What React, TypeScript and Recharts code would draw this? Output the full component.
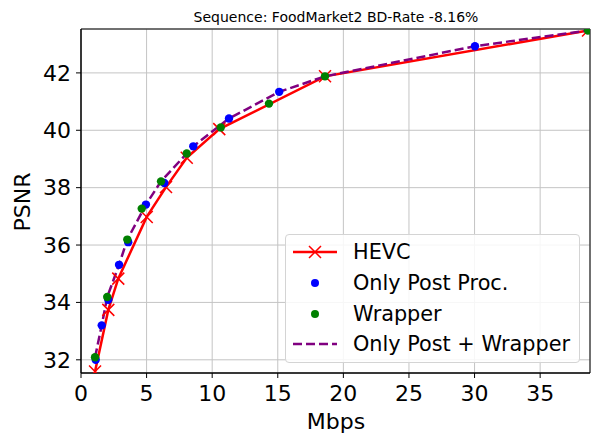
import React from "react";
import {
  ComposedChart,
  Line,
  XAxis,
  YAxis,
  CartesianGrid,
  ReferenceArea,
} from "recharts";

// values (Mbps, PSNR)
const hevcRate = [1.07, 2.08, 2.84, 5.01, 6.48, 8.06, 10.54, 18.6, 38.65];
const hevcPsnr = [31.59, 33.74, 34.83, 36.98, 38.02, 39.04, 40.04, 41.88, 43.48];

const postRate = [1.12, 1.58, 2.08, 2.9, 3.6, 4.95, 6.35, 8.56, 11.28, 15.11, 30.03];
const postPsnr = [32.0, 33.2, 34.09, 35.31, 36.1, 37.41, 38.16, 39.44, 40.41, 41.34, 42.93];

const wrapRate = [1.07, 2.0, 3.53, 4.63, 6.1, 8.06, 10.65, 14.33, 18.6, 38.65];
const wrapPsnr = [32.09, 34.19, 36.19, 37.27, 38.22, 39.19, 40.1, 40.93, 41.88, 43.48];

const bothRate = [1.07, 1.58, 2.0, 2.9, 3.53, 4.95, 6.1, 8.56, 11.28, 15.11, 18.6, 30.03, 38.65];
const bothPsnr = [32.09, 33.2, 34.19, 35.31, 36.19, 37.41, 38.22, 39.44, 40.41, 41.34, 41.88, 42.93, 43.48];

const xTicks = [0, 5, 10, 15, 20, 25, 30, 35];
const yTicks = [32, 34, 36, 38, 40, 42];
const X_DOMAIN: [number, number] = [0, 38.8];
const Y_DOMAIN: [number, number] = [31.54, 43.53];

const FONT = "'DejaVu Sans', sans-serif";

const toPts = (xs: number[], ys: number[]) => xs.map((x, i) => ({ x, y: ys[i] }));

function XMark({ cx, cy }: any) {
  if (cx == null || cy == null) return null;
  const s = 6;
  return (
    <path
      d={`M${cx - s},${cy - s}L${cx + s},${cy + s}M${cx - s},${cy + s}L${cx + s},${cy - s}`}
      stroke="#ff0000"
      strokeWidth={1.5}
      fill="none"
    />
  );
}

const legendItems = [
  { label: "HEVC", kind: "x" },
  { label: "Only Post Proc.", kind: "blue" },
  { label: "Wrapper", kind: "green" },
  { label: "Only Post + Wrapper", kind: "dash" },
];

function LegendBox() {
  return (
    <div
      style={{
        position: "absolute",
        left: 285,
        top: 234,
        width: 295,
        height: 129,
        border: "1px solid #d4d4d4",
        borderRadius: 4,
        background: "rgba(255,255,255,0.85)",
        boxSizing: "border-box",
        fontFamily: FONT,
        fontSize: 20.8,
      }}
    >
      {legendItems.map((it, i) => {
        const cy = 17 + 30.8 * i;
        return (
          <div key={it.label}>
            <svg
              width={46}
              height={20}
              style={{ position: "absolute", left: 6, top: cy - 10 }}
            >
              {it.kind === "x" && (
                <>
                  <line x1={1} y1={10} x2={45} y2={10} stroke="#ff0000" strokeWidth={2.5} />
                  <path d="M17,4L29,16M17,16L29,4" stroke="#ff0000" strokeWidth={1.5} />
                </>
              )}
              {it.kind === "blue" && <circle cx={23} cy={10} r={4} fill="#0000ff" />}
              {it.kind === "green" && <circle cx={23} cy={10} r={4} fill="#008000" />}
              {it.kind === "dash" && (
                <line
                  x1={1}
                  y1={10}
                  x2={45}
                  y2={10}
                  stroke="#800080"
                  strokeWidth={2.5}
                  strokeDasharray="9 4"
                />
              )}
            </svg>
            <span
              style={{
                position: "absolute",
                left: 67,
                top: cy - 12,
                lineHeight: "24px",
                whiteSpace: "nowrap",
              }}
            >
              {it.label}
            </span>
          </div>
        );
      })}
    </div>
  );
}

export default function App() {
  const tick = { fontSize: 22, fill: "#000", fontFamily: FONT };
  return (
    <div
      style={{
        position: "absolute",
        left: 0,
        top: 0,
        width: 596,
        height: 438,
        background: "#fff",
        fontFamily: FONT,
      }}
    >
      <div
        style={{
          position: "absolute",
          left: 336,
          top: 17,
          transform: "translate(-50%, -50%)",
          fontSize: 14,
          lineHeight: 1,
          whiteSpace: "nowrap",
        }}
      >
        Sequence: FoodMarket2 BD-Rate -8.16%
      </div>

      <ComposedChart
        width={596}
        height={438}
        margin={{ top: 29, right: 6, bottom: 0, left: 0 }}
      >
        <CartesianGrid stroke="#c4c4c4" strokeWidth={1} />
        <XAxis
          type="number"
          dataKey="x"
          domain={X_DOMAIN}
          ticks={xTicks}
          allowDataOverflow
          height={65}
          tick={tick}
          tickSize={5}
          tickMargin={7}
          stroke="#000"
          tickLine={{ stroke: "#000" }}
          interval={0}
        />
        <YAxis
          type="number"
          dataKey="y"
          domain={Y_DOMAIN}
          ticks={yTicks}
          allowDataOverflow
          width={81}
          tick={tick}
          tickSize={5}
          tickMargin={5}
          stroke="#000"
          tickLine={{ stroke: "#000" }}
          interval={0}
        />
        <Line
          data={toPts(hevcRate, hevcPsnr)}
          dataKey="y"
          name="HEVC"
          stroke="#ff0000"
          strokeWidth={2.5}
          dot={<XMark />}
          activeDot={false}
          isAnimationActive={false}
        />
        <Line
          data={toPts(postRate, postPsnr)}
          dataKey="y"
          name="Only Post Proc."
          stroke="none"
          dot={{ r: 4.2, fill: "#0000ff", stroke: "none" }}
          activeDot={false}
          isAnimationActive={false}
        />
        <Line
          data={toPts(wrapRate, wrapPsnr)}
          dataKey="y"
          name="Wrapper"
          stroke="none"
          dot={{ r: 4.2, fill: "#008000", stroke: "none" }}
          activeDot={false}
          isAnimationActive={false}
        />
        <Line
          data={toPts(bothRate, bothPsnr)}
          dataKey="y"
          name="Only Post + Wrapper"
          stroke="#800080"
          strokeWidth={2.5}
          strokeDasharray="9 4"
          dot={false}
          activeDot={false}
          isAnimationActive={false}
        />
        <ReferenceArea
          x1={X_DOMAIN[0]}
          x2={X_DOMAIN[1]}
          y1={Y_DOMAIN[0]}
          y2={Y_DOMAIN[1]}
          fill="none"
          stroke="#000"
          strokeWidth={1}
        />
      </ComposedChart>

      <div
        style={{
          position: "absolute",
          left: 336,
          top: 422,
          transform: "translate(-50%, -50%)",
          fontSize: 22,
          lineHeight: 1,
        }}
      >
        Mbps
      </div>
      <div
        style={{
          position: "absolute",
          left: 23,
          top: 202,
          transform: "translate(-50%, -50%) rotate(-90deg)",
          fontSize: 22,
          lineHeight: 1,
        }}
      >
        PSNR
      </div>

      <LegendBox />
    </div>
  );
}
